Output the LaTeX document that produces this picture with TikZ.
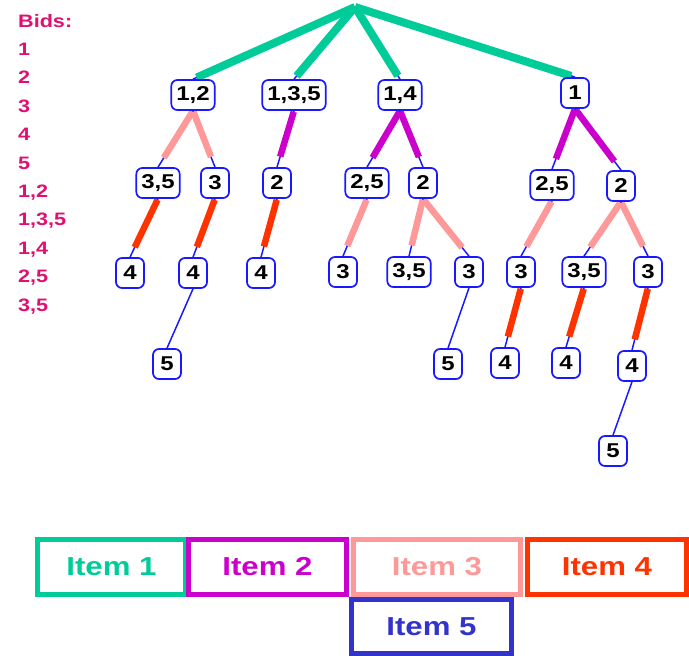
\documentclass[tikz,border=0pt]{standalone}
\usepackage{fontspec}
\setmainfont{Liberation Sans}[FakeStretch=1.2]
\usetikzlibrary{backgrounds}

\definecolor{itemone}{RGB}{0,204,153}
\definecolor{itemtwo}{RGB}{204,0,204}
\definecolor{itemthree}{RGB}{255,153,153}
\definecolor{itemfour}{RGB}{255,51,0}
\definecolor{itemfive}{RGB}{51,51,204}
\definecolor{nodeblue}{RGB}{25,25,255}
\definecolor{bidpink}{RGB}{224,16,112}

\begin{document}
\begin{tikzpicture}[
    x=1pt, y=-1pt,
    bidbox/.style={draw=nodeblue, line width=1.7pt, rounded corners=6pt,
                   fill=white, minimum width=28pt, minimum height=30pt,
                   inner xsep=5pt, inner ysep=0pt,
                   font=\fontsize{20}{24}\selectfont\bfseries},
    link/.style={draw=nodeblue, line width=1.5pt},
    bar/.style={line width=6.5pt, shorten <=1pt, shorten >=11pt},
    rootbar/.style={draw=itemone, line width=8pt, shorten >=4pt},
    itembox/.style={draw, line width=5pt, minimum height=55pt, inner sep=0pt,
                    font=\fontsize{26}{30}\selectfont\bfseries},
    bidtext/.style={anchor=base west, text=bidpink, inner sep=0pt,
                    font=\fontsize{18}{20}\selectfont\bfseries},
]
\useasboundingbox (0,0) rectangle (689,656);

% === Bid list ===
\foreach \t [count=\i from 0] in {Bids:,1,2,3,4,5,{1,2},{1,3,5},{1,4},{2,5},{3,5}}
  \node[bidtext] (bid\i) at (18,{27+28.4*\i}) {\t};

% === Search tree ===
\coordinate (root) at (355,7);

% first level
\node[bidbox] (t12)  at (193,95) {1,2};
\node[bidbox] (t135) at (294,95) {1,3,5};
\node[bidbox] (t14)  at (400,95) {1,4};
\node[bidbox] (t1)   at (575,93) {1};

% second level
\node[bidbox] (t12a)  at (158,183) {3,5};
\node[bidbox] (t12b)  at (215,183) {3};
\node[bidbox] (t135a) at (277,183) {2};
\node[bidbox] (t14a)  at (367,183) {2,5};
\node[bidbox] (t14b)  at (423,183) {2};
\node[bidbox] (t1a)   at (552,185) {2,5};
\node[bidbox] (t1b)   at (621,186) {2};

% third level
\node[bidbox] (t12aa)  at (130,273) {4};
\node[bidbox] (t12ba)  at (193,273) {4};
\node[bidbox] (t135aa) at (261,273) {4};
\node[bidbox] (t14aa)  at (343,272) {3};
\node[bidbox] (t14ba)  at (409,272) {3,5};
\node[bidbox] (t14bb)  at (469,272) {3};
\node[bidbox] (t1aa)   at (521,272) {3};
\node[bidbox] (t1ba)   at (584,272) {3,5};
\node[bidbox] (t1bb)   at (648,272) {3};

% fourth and fifth level
\node[bidbox] (t12baa) at (167,364) {5};
\node[bidbox] (t14bba) at (448,364) {5};
\node[bidbox] (t1aaa)  at (505,363) {4};
\node[bidbox] (t1baa)  at (566,363) {4};
\node[bidbox] (t1bba)  at (632,366) {4};
\node[bidbox] (t1bbaa) at (613,451) {5};

% === Edges, under the boxes ===
\begin{scope}[on background layer]
  % thin links
  \foreach \c in {t12,t135,t14,t1}
    \draw[link] (root) -- (\c.north);
  \foreach \p/\c in {t12/t12a, t12/t12b, t135/t135a, t14/t14a, t14/t14b,
                     t1/t1a, t1/t1b, t12a/t12aa, t12b/t12ba, t135a/t135aa,
                     t14a/t14aa, t14b/t14ba, t14b/t14bb, t1a/t1aa, t1b/t1ba,
                     t1b/t1bb, t12ba/t12baa, t14bb/t14bba, t1aa/t1aaa,
                     t1ba/t1baa, t1bb/t1bba, t1bba/t1bbaa}
    \draw[link] (\p.south) -- (\c.north);

  % item 1
  \foreach \c in {t12,t135,t14,t1}
    \draw[rootbar] (root) -- (\c.north);
  % item 2
  \foreach \p/\c in {t135/t135a, t14/t14a, t14/t14b, t1/t1a, t1/t1b}
    \draw[bar, itemtwo] (\p.south) -- (\c.north);
  % item 3
  \foreach \p/\c in {t12/t12a, t12/t12b, t14a/t14aa, t14b/t14ba, t14b/t14bb,
                     t1a/t1aa, t1b/t1ba, t1b/t1bb}
    \draw[bar, itemthree] (\p.south) -- (\c.north);
  % item 4
  \foreach \p/\c in {t12a/t12aa, t12b/t12ba, t135a/t135aa, t1aa/t1aaa,
                     t1ba/t1baa, t1bb/t1bba}
    \draw[bar, itemfour] (\p.south) -- (\c.north);
\end{scope}

% === Legend ===
\node[itembox, draw=itemone, text=itemone, minimum width=148pt]
     (item1) at (111.5,567) {Item 1};
\node[itembox, draw=itemtwo, text=itemtwo, minimum width=158pt]
     (item2) at (267.5,567) {Item 2};
\node[itembox, draw=itemthree, text=itemthree, minimum width=167pt]
     (item3) at (437,567) {Item 3};
\node[itembox, draw=itemfour, text=itemfour, minimum width=159pt]
     (item4) at (607,567) {Item 4};
\node[itembox, draw=itemfive, text=itemfive, minimum width=160pt,
      minimum height=54pt] (item5) at (431.5,626.5) {Item 5};

\end{tikzpicture}
\end{document}
